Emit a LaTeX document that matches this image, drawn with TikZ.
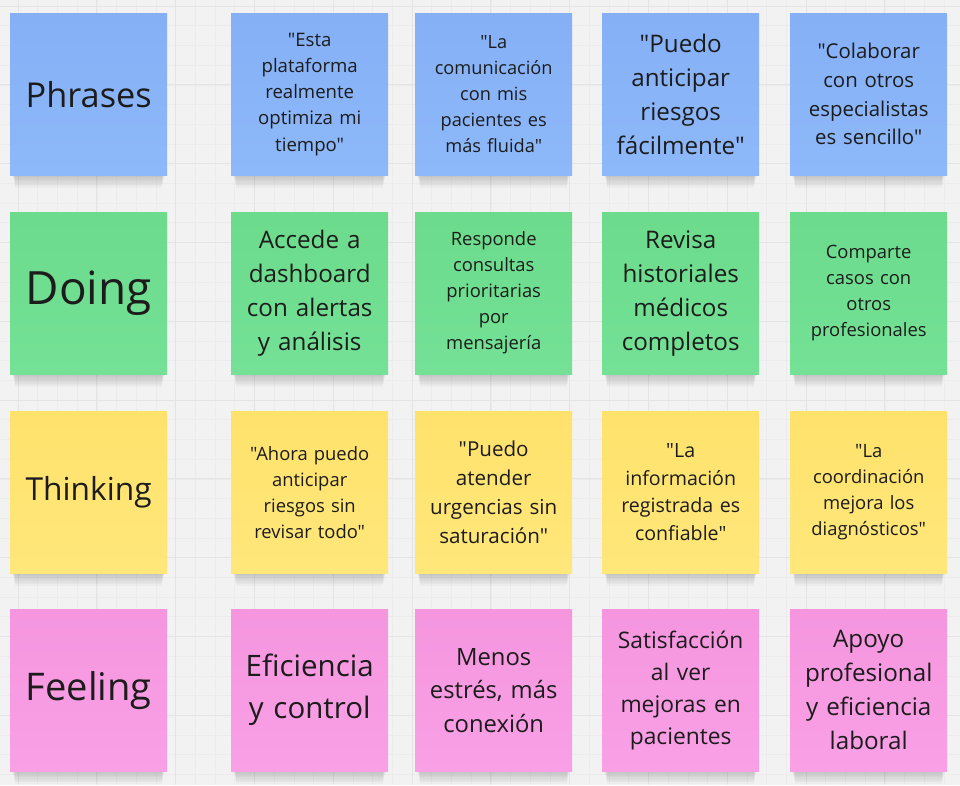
\documentclass[tikz,border=0pt]{standalone}
\usepackage{fontspec}
\setmainfont{Open Sans}[Ligatures=TeXOff]
\usepackage{graphicx}
\definecolor{bg}{HTML}{F2F2F2}
\definecolor{gridminor}{HTML}{ECECEC}
\definecolor{gridmajor}{HTML}{E4E4E4}
\definecolor{ink}{HTML}{1C1C1C}
\definecolor{blueA}{HTML}{86B0F6}
\definecolor{blueB}{HTML}{8DB8F9}
\definecolor{greenA}{HTML}{6CDB8C}
\definecolor{greenB}{HTML}{74E196}
\definecolor{yellowA}{HTML}{FFE26C}
\definecolor{yellowB}{HTML}{FFE77A}
\definecolor{pinkA}{HTML}{F596DF}
\definecolor{pinkB}{HTML}{F9A0E6}
\tikzset{
  sticky/.style={anchor=north west, minimum width=157pt, minimum height=162pt,
    inner sep=0pt, text width=150pt, align=center, text=ink},
  bluenote/.style={sticky, top color=blueA, bottom color=blueB},
  greennote/.style={sticky, top color=greenA, bottom color=greenB},
  yellownote/.style={sticky, top color=yellowA, bottom color=yellowB},
  pinknote/.style={sticky, top color=pinkA, bottom color=pinkB},
  fs/.style 2 args={font=\fontsize{#1pt}{#2pt}\selectfont},
  shadowlayer/.style={fill=black, fill opacity=0.022, draw=none},
}
\newcommand{\headword}[1]{\resizebox{126pt}{!}{#1}}
\newcommand{\softshadow}[2]{%
  \foreach \k in {1,...,8} {
    \fill[shadowlayer] ({#1+2+0.4*\k},{#2+150}) rectangle ({#1+155-0.4*\k},{#2+162+1.6*\k});
  }%
}
\begin{document}
\begin{tikzpicture}[x=1pt,y=-1pt]
\fill[bg] (0,0) rectangle (960,785);
\useasboundingbox (0,0) rectangle (960,785);
% grid
\foreach \i in {-1,...,50} {
  \draw[gridminor, line width=0.5pt] ({18+19.7*\i},0) -- ({18+19.7*\i},785);
}
\foreach \i in {-1,...,40} {
  \draw[gridminor, line width=0.5pt] (0,{6+19.7*\i}) -- (960,{6+19.7*\i});
}
\foreach \i in {0,...,12} {
  \draw[gridmajor, line width=0.8pt] ({18+78.8*\i},0) -- ({18+78.8*\i},785);
}
\foreach \i in {0,...,10} {
  \draw[gridmajor, line width=0.8pt] (0,{6+78.8*\i}) -- (960,{6+78.8*\i});
}
% shadows
\foreach \sx in {10,231,415,602,790} {
  \foreach \sy in {13,212,411,609} {
    \softshadow{\sx}{\sy}
  }
}
% row 1
\node[bluenote] (h1) at (10,13) {\headword{Phrases}};
\node[bluenote, fs={18.6}{26.3}] (p1) at (231,13) {"Esta\\plataforma\\realmente\\optimiza mi\\tiempo"};
\node[bluenote, fs={18.2}{26}] (p2) at (415,13) {"La\\comunicación\\con mis\\pacientes es\\más fluida"};
\node[bluenote, fs={24.2}{34}] (p3) at (602,13) {"Puedo\\anticipar\\riesgos\\fácilmente"};
\node[bluenote, fs={20.4}{28.7}] (p4) at (790,13) {"Colaborar\\con otros\\especialistas\\es sencillo"};
% row 2
\node[greennote] (h2) at (10,212) {\headword{Doing}};
\node[greennote, fs={24.2}{34}] (d1) at (231,212) {Accede a\\dashboard\\con alertas\\y análisis};
\node[greennote, fs={18.4}{26}] (d2) at (415,212) {Responde\\consultas\\prioritarias\\por\\mensajería};
\node[greennote, fs={24.2}{34}] (d3) at (602,212) {Revisa\\historiales\\médicos\\completos};
\node[greennote, fs={18.4}{26}] (d4) at (790,212) {Comparte\\casos con\\otros\\profesionales};
% row 3
\node[yellownote] (h3) at (10,411) {\headword{Thinking}};
\node[yellownote, fs={18.4}{26}] (t1) at (231,411) {"Ahora puedo\\anticipar\\riesgos sin\\revisar todo"};
\node[yellownote, fs={20.6}{29}] (t2) at (415,411) {"Puedo\\atender\\urgencias sin\\saturación"};
\node[yellownote, fs={19.6}{27.5}] (t3) at (602,411) {"La\\información\\registrada es\\confiable"};
\node[yellownote, fs={18.4}{26}] (t4) at (790,411) {"La\\coordinación\\mejora los\\diagnósticos"};
% row 4
\node[pinknote] (h4) at (10,609) {\headword{Feeling}};
\node[pinknote, fs={29.5}{42}] (f1) at (231,609) {Eficiencia\\y control};
\node[pinknote, fs={23.8}{33.5}] (f2) at (415,609) {Menos\\estrés, más\\conexión};
\node[pinknote, fs={22.8}{32}] (f3) at (602,609) {Satisfacción\\al ver\\mejoras en\\pacientes};
\node[pinknote, fs={24.2}{34}] (f4) at (790,609) {Apoyo\\profesional\\y eficiencia\\laboral};
\end{tikzpicture}
\end{document}
